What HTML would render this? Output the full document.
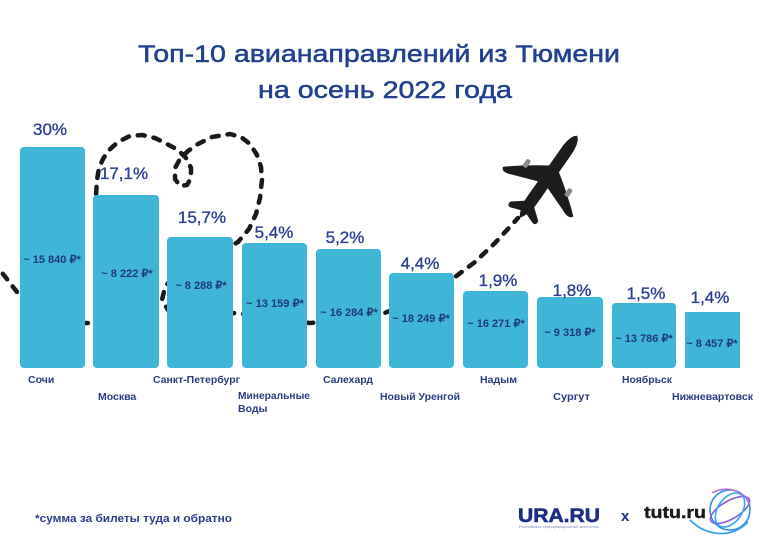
<!DOCTYPE html>
<html><head><meta charset="utf-8"><style>
html,body{margin:0;padding:0;background:#fff;}
svg{display:block;}
.t{font-family:"Liberation Sans","Noto Sans CJK SC",sans-serif;}
</style></head><body>
<svg width="760" height="543" viewBox="0 0 760 543" xmlns="http://www.w3.org/2000/svg">
<rect width="760" height="543" fill="#fff"/>
<!-- title -->
<text class="t" x="138" y="62" font-size="24" fill="#21418f" stroke="#21418f" stroke-width="0.5" textLength="482" lengthAdjust="spacingAndGlyphs">Топ-10 авианаправлений из Тюмени</text>
<text class="t" x="258" y="98" font-size="24" fill="#21418f" stroke="#21418f" stroke-width="0.5" textLength="254" lengthAdjust="spacingAndGlyphs">на осень 2022 года</text>

<!-- dashed path -->
<polyline fill="none" stroke="#1a1a1a" stroke-width="4.5" stroke-linecap="round" stroke-linejoin="round" stroke-dasharray="7 9"
points="-8,262 3,274 17,292 35,308 55,318 75,323 90,323 100,315 104,290 104,260 102,230 98,210 96,195 97,180 99,168 103,159 108,151 118,142 130,136 142,135 155,138 167,144 178,150 186,158 191,168 191,178 187,185 180,186 175,179 175,168 180,159 188,151 198,144 212,137 230,134 241,137 250,144 257,155 261,167 262,180 260,198 256,214 249,229 238,242 215,255 190,268 172,278 165,287 162,300 168,310 190,316 215,316 233,313 255,315 280,321 310,323 340,321 365,317 382,314 405,305 430,294 455,277 475,262 495,243 518,218"/>

<!-- plane -->
<g transform="translate(549,176) rotate(35)" fill="#1c1c1c">
<path d="M0,-49 C4,-47 6,-39 6,-30 L6,30 C6,40 3,47 0,51 C-3,47 -6,40 -6,30 L-6,-30 C-6,-39 -4,-47 0,-49 Z"/>
<path d="M4,-10 C18,-1 34,11 43,19 C42,23 37,23 31,20 L4,10 Z"/>
<path d="M-4,-10 C-18,-1 -34,11 -43,19 C-42,23 -37,23 -31,20 L-4,10 Z"/>
<path d="M3,32 L17,43 C18,47 16,48 14,48 L3,44 Z"/>
<path d="M-3,32 L-17,43 C-18,47 -16,48 -14,48 L-3,44 Z"/>
<rect x="23" y="-2" width="5" height="9" rx="2" fill="#8a8a8a"/>
<rect x="-28" y="-2" width="5" height="9" rx="2" fill="#8a8a8a"/>
</g>

<!-- bars -->
<g fill="#3fb5d8">
<rect x="20" y="147" width="65" height="221" rx="4"/>
<rect x="93" y="195" width="66" height="173" rx="4"/>
<rect x="167" y="237" width="66" height="131" rx="4"/>
<rect x="242" y="243" width="65" height="125" rx="4"/>
<rect x="316" y="249" width="65" height="119" rx="4"/>
<rect x="389" y="273" width="65" height="95" rx="4"/>
<rect x="463" y="291" width="65" height="77" rx="4"/>
<rect x="537" y="297" width="66" height="71" rx="4"/>
<rect x="612" y="303" width="64" height="65" rx="4"/>
<rect x="685" y="312" width="55" height="56"/>
</g>

<!-- percent labels -->
<g class="t" font-size="17" fill="#2b3f95" stroke="#2b3f95" stroke-width="0.35" text-anchor="middle">
<text x="50" y="135">30%</text>
<text x="124" y="179">17,1%</text>
<text x="202" y="223">15,7%</text>
<text x="274" y="238">5,4%</text>
<text x="345" y="243">5,2%</text>
<text x="420" y="269">4,4%</text>
<text x="498" y="286">1,9%</text>
<text x="572" y="296">1,8%</text>
<text x="646" y="299">1,5%</text>
<text x="710" y="303">1,4%</text>
</g>

<!-- price labels -->
<g class="t" font-size="11" font-weight="600" fill="#1f3a78" text-anchor="middle">
<text x="52" y="263">~ 15 840 ₽*</text>
<text x="127" y="277">~ 8 222 ₽*</text>
<text x="201" y="289">~ 8 288 ₽*</text>
<text x="275" y="307">~ 13 159 ₽*</text>
<text x="349" y="316">~ 16 284 ₽*</text>
<text x="421" y="322">~ 18 249 ₽*</text>
<text x="496" y="327">~ 16 271 ₽*</text>
<text x="570" y="336">~ 9 318 ₽*</text>
<text x="644" y="342">~ 13 786 ₽*</text>
<text x="712" y="347">~ 8 457 ₽*</text>
</g>

<!-- category labels -->
<g class="t" font-size="10.5" font-weight="700" fill="#283d82">
<text x="28" y="383">Сочи</text>
<text x="98" y="400">Москва</text>
<text x="153" y="383" textLength="87" lengthAdjust="spacingAndGlyphs">Санкт-Петербург</text>
<text x="238" y="399" textLength="72" lengthAdjust="spacingAndGlyphs">Минеральные</text>
<text x="238" y="412">Воды</text>
<text x="323" y="383" textLength="50" lengthAdjust="spacingAndGlyphs">Салехард</text>
<text x="380" y="400" textLength="80" lengthAdjust="spacingAndGlyphs">Новый Уренгой</text>
<text x="480" y="383" textLength="37" lengthAdjust="spacingAndGlyphs">Надым</text>
<text x="553" y="400" textLength="37" lengthAdjust="spacingAndGlyphs">Сургут</text>
<text x="622" y="383" textLength="50" lengthAdjust="spacingAndGlyphs">Ноябрьск</text>
<text x="672" y="400" textLength="81" lengthAdjust="spacingAndGlyphs">Нижневартовск</text>
</g>

<!-- footnote -->
<text class="t" x="35" y="522" font-size="11" font-weight="600" fill="#2a3f8a" textLength="197" lengthAdjust="spacingAndGlyphs">*сумма за билеты туда и обратно</text>

<!-- logos -->
<text class="t" x="518" y="522" font-size="19" font-weight="700" fill="#1d2f85" stroke="#1d2f85" stroke-width="0.6" textLength="82" lengthAdjust="spacingAndGlyphs">URA.RU</text>
<text class="t" x="519" y="528" font-size="3.5" fill="#7a86b0" textLength="80" lengthAdjust="spacingAndGlyphs">Российское информационное агентство</text>
<text class="t" x="621" y="521" font-size="15" font-weight="700" fill="#1d2f85">x</text>
<text class="t" x="644" y="518" font-size="17" font-weight="700" fill="#1a1a1a" stroke="#1a1a1a" stroke-width="0.4" textLength="62" lengthAdjust="spacingAndGlyphs">tutu.ru</text>
<g fill="none" stroke-width="1.6">
<ellipse cx="730" cy="510" rx="20" ry="20" stroke="#2f8fe6"/>
<ellipse cx="730" cy="510" rx="22" ry="9" stroke="#8a5ad8" transform="rotate(-30 730 510)"/>
<ellipse cx="730" cy="510" rx="19" ry="12" stroke="#3aa8f0" transform="rotate(-55 730 510)"/>
<path d="M690,520 C705,535 730,540 748,522" stroke="#2aa0ea"/>
<path d="M712,493 C725,485 745,490 750,505" stroke="#b070e0"/>
</g>
</svg>
</body></html>
